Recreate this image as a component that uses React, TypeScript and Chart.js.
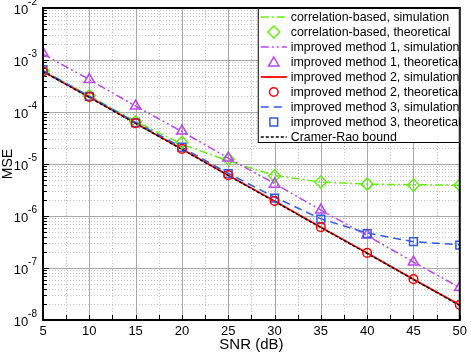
import React, { useEffect, useRef } from "react";
import { Chart, registerables } from "chart.js";

Chart.register(...registerables);

// ---- data ----
const snr = [5, 10, 15, 20, 25, 30, 35, 40, 45, 50];
const corrSim = [6.2e-4, 2.05e-4, 6.6e-5, 2.4e-5, 1.15e-5, 6.0e-6, 4.5e-6, 4.1e-6, 4.0e-6, 3.9e-6];
const corrTheo = [6.2e-4, 2.05e-4, 6.5e-5, 2.6e-5, 1.25e-5, 5.9e-6, 4.5e-6, 4.1e-6, 3.9e-6, 3.9e-6];
const m1Sim = [1.3e-3, 4.2e-4, 1.3e-4, 4.2e-5, 1.3e-5, 4.2e-6, 1.3e-6, 4.2e-7, 1.3e-7, 4.2e-8];
const m1Theo = [1.35e-3, 4.2e-4, 1.3e-4, 4.3e-5, 1.3e-5, 4.1e-6, 1.3e-6, 4.3e-7, 1.3e-7, 4.2e-8];
const m2Sim = [6.0e-4, 1.95e-4, 6.1e-5, 1.95e-5, 6.1e-6, 1.95e-6, 6.1e-7, 1.95e-7, 6.1e-8, 1.95e-8];
const m2Theo = [6.0e-4, 1.95e-4, 6.1e-5, 1.95e-5, 6.1e-6, 1.95e-6, 6.1e-7, 1.95e-7, 6.1e-8, 1.95e-8];
const m3Sim = [6.3e-4, 2.0e-4, 6.3e-5, 2.1e-5, 6.6e-6, 2.3e-6, 8.8e-7, 4.7e-7, 3.2e-7, 2.8e-7];
const m3Theo = [6.5e-4, 2.0e-4, 6.2e-5, 2.1e-5, 6.5e-6, 2.2e-6, 8.7e-7, 4.6e-7, 3.2e-7, 2.75e-7];
const crb = [6.0e-4, 1.9e-4, 6.0e-5, 1.9e-5, 6.0e-6, 1.9e-6, 6.0e-7, 1.9e-7, 6.0e-8, 1.9e-8];

const yTickExponents = [-2, -3, -4, -5, -6, -7, -8];
const xMin = 5;
const xMax = 50;

const GREEN = "#66ee11";
const VIOLET = "#bb44ee";
const RED = "#ff0000";
const BLUE = "#2f5bea";
const FONT = "'Liberation Sans', Arial, sans-serif";

type Entry = {
  label: string;
  color: string;
  dash?: number[];
  width?: number;
  marker?: "diamond" | "triangle" | "circle" | "square";
};

const legendEntries: Entry[] = [
  { label: "correlation-based, simulation", color: GREEN, dash: [8, 3, 2, 3], width: 1.5 },
  { label: "correlation-based, theoretical", color: GREEN, marker: "diamond" },
  { label: "improved method 1, simulation", color: VIOLET, dash: [8, 3, 2, 3, 2, 3], width: 1.5 },
  { label: "improved method 1, theoretical", color: VIOLET, marker: "triangle" },
  { label: "improved method 2, simulation", color: RED, dash: [], width: 1.8 },
  { label: "improved method 2, theoretical", color: RED, marker: "circle" },
  { label: "improved method 3, simulation", color: BLUE, dash: [8, 5], width: 1.5 },
  { label: "improved method 3, theoretical", color: BLUE, marker: "square" },
  { label: "Cramer-Rao bound", color: "#000000", dash: [3, 2], width: 1.3 },
];

function drawMarker(ctx: CanvasRenderingContext2D, kind: string, x: number, y: number, r: number) {
  ctx.beginPath();
  if (kind === "diamond") {
    ctx.moveTo(x, y - r);
    ctx.lineTo(x + r, y);
    ctx.lineTo(x, y + r);
    ctx.lineTo(x - r, y);
    ctx.closePath();
  } else if (kind === "triangle") {
    const h = r;
    ctx.moveTo(x, y - h);
    ctx.lineTo(x + h * 0.866, y + h * 0.5);
    ctx.lineTo(x - h * 0.866, y + h * 0.5);
    ctx.closePath();
  } else if (kind === "circle") {
    ctx.arc(x, y, r, 0, Math.PI * 2);
  } else {
    const s = r * Math.SQRT1_2;
    ctx.rect(x - s, y - s, 2 * s, 2 * s);
  }
  ctx.stroke();
}

const frameAndLegend = {
  id: "frameAndLegend",
  beforeDatasetsDraw(chart: any) {
    const ctx: CanvasRenderingContext2D = chart.ctx;
    const { left, right, top, bottom } = chart.chartArea;
    const xs = chart.scales.x;
    const ys = chart.scales.y;
    ctx.save();
    // minor grid (dotted)
    ctx.strokeStyle = "#c4c4c4";
    ctx.lineWidth = 1;
    ctx.setLineDash([1, 2]);
    for (let v = xMin + 2.5; v < xMax; v += 5) {
      const px = Math.round(xs.getPixelForValue(v)) + 0.5;
      ctx.beginPath();
      ctx.moveTo(px, top);
      ctx.lineTo(px, bottom);
      ctx.stroke();
    }
    for (let e = -8; e < -2; e++) {
      for (let m = 2; m <= 9; m++) {
        const py = Math.round(ys.getPixelForValue(m * Math.pow(10, e))) + 0.5;
        ctx.beginPath();
        ctx.moveTo(left, py);
        ctx.lineTo(right, py);
        ctx.stroke();
      }
    }
    // major grid (solid)
    ctx.setLineDash([]);
    ctx.strokeStyle = "#a8a8a8";
    for (let v = xMin + 5; v < xMax; v += 5) {
      const px = Math.round(xs.getPixelForValue(v)) + 0.5;
      ctx.beginPath();
      ctx.moveTo(px, top);
      ctx.lineTo(px, bottom);
      ctx.stroke();
    }
    yTickExponents.forEach((e) => {
      const py = Math.round(ys.getPixelForValue(Math.pow(10, e))) + 0.5;
      ctx.beginPath();
      ctx.moveTo(left, py);
      ctx.lineTo(right, py);
      ctx.stroke();
    });
    // inner tick marks
    ctx.strokeStyle = "#000";
    ctx.lineWidth = 1;
    for (let v = xMin; v <= xMax; v += 2.5) {
      const px = Math.round(xs.getPixelForValue(v)) + 0.5;
      ctx.beginPath();
      ctx.moveTo(px, bottom);
      ctx.lineTo(px, bottom - 5);
      ctx.stroke();
    }
    for (let e = -8; e < -2; e++) {
      for (let m = 1; m <= 9; m++) {
        const py = Math.round(ys.getPixelForValue(m * Math.pow(10, e))) + 0.5;
        ctx.beginPath();
        ctx.moveTo(left, py);
        ctx.lineTo(left + (m === 1 ? 6 : 4), py);
        ctx.stroke();
      }
    }
    ctx.restore();
  },
  afterDraw(chart: any) {
    const ctx: CanvasRenderingContext2D = chart.ctx;
    const { left, right, top, bottom } = chart.chartArea;
    const ys = chart.scales.y;
    ctx.save();
    // frame
    ctx.strokeStyle = "#000";
    ctx.lineWidth = 2;
    ctx.setLineDash([]);
    ctx.strokeRect(left, top, right - left, bottom - top);

    // y tick labels with superscripts
    ctx.fillStyle = "#000";
    ctx.textBaseline = "middle";
    yTickExponents.forEach((e) => {
      const py = ys.getPixelForValue(Math.pow(10, e));
      ctx.font = `10px ${FONT}`;
      ctx.textAlign = "right";
      const sup = String(e);
      const supW = ctx.measureText(sup).width;
      const supRight = left - 6;
      ctx.fillText(sup, supRight, py - 6);
      ctx.font = `13px ${FONT}`;
      ctx.fillText("10", supRight - supW, py + 2);
    });

    // legend
    const boxW = 202;
    const rowH = 15;
    const boxH = 135;
    const bx = right - boxW;
    const by = top;
    ctx.fillStyle = "#fff";
    ctx.fillRect(bx, by, boxW, boxH);
    ctx.strokeStyle = "#000";
    ctx.lineWidth = 1;
    ctx.strokeRect(bx + 0.5, by + 0.5, boxW - 1, boxH - 1);
    ctx.font = `12.4px ${FONT}`;
    ctx.textAlign = "left";
    ctx.textBaseline = "middle";
    legendEntries.forEach((en, i) => {
      const y = by + 9 + i * rowH;
      ctx.strokeStyle = en.color;
      if (en.marker) {
        ctx.setLineDash([]);
        ctx.lineWidth = 1.5;
        const r = en.marker === "circle" ? 4.3 : en.marker === "square" ? 5.5 : 6;
        drawMarker(ctx, en.marker, bx + 16, en.marker === "triangle" ? y + 1 : y, r);
      } else {
        ctx.setLineDash(en.dash || []);
        ctx.lineWidth = en.width || 1.5;
        ctx.beginPath();
        ctx.moveTo(bx + 3, y);
        ctx.lineTo(bx + 29, y);
        ctx.stroke();
      }
      ctx.setLineDash([]);
      ctx.fillStyle = "#000";
      ctx.fillText(en.label, bx + 33, y + 0.5);
    });
    ctx.restore();
  },
};

function pts(vals: number[]) {
  return snr.map((x, i) => ({ x, y: vals[i] }));
}

export default function App() {
  const ref = useRef<HTMLCanvasElement | null>(null);
  useEffect(() => {
    if (!ref.current) return;
    const lineDs = (label: string, vals: number[], color: string, dash: number[], width: number, order: number) => ({
      label,
      data: pts(vals),
      borderColor: color,
      backgroundColor: color,
      borderDash: dash,
      borderWidth: width,
      pointRadius: 0,
      showLine: true,
      fill: false,
      tension: 0,
      order,
    });
    const markDs = (label: string, vals: number[], color: string, style: string, radius: number, order: number) => ({
      label,
      data: pts(vals),
      borderColor: color,
      backgroundColor: "rgba(0,0,0,0)",
      pointStyle: style,
      pointRadius: radius,
      pointBorderWidth: 1.5,
      pointBorderColor: color,
      pointBackgroundColor: "rgba(0,0,0,0)",
      showLine: false,
      order,
    });
    const chart = new Chart(ref.current, {
      type: "scatter",
      data: {
        datasets: [
          lineDs(legendEntries[0].label, corrSim, GREEN, [8, 3, 2, 3], 1.5, 9),
          markDs(legendEntries[1].label, corrTheo, GREEN, "rectRot", 6, 4),
          lineDs(legendEntries[2].label, m1Sim, VIOLET, [8, 3, 2, 3, 2, 3], 1.5, 8),
          markDs(legendEntries[3].label, m1Theo, VIOLET, "triangle", 6, 3),
          lineDs(legendEntries[4].label, m2Sim, RED, [], 1.8, 7),
          markDs(legendEntries[5].label, m2Theo, RED, "circle", 4.3, 1),
          lineDs(legendEntries[6].label, m3Sim, BLUE, [8, 5], 1.5, 6),
          markDs(legendEntries[7].label, m3Theo, BLUE, "rect", 5.5, 2),
          lineDs(legendEntries[8].label, crb, "#000000", [3, 2], 1.3, 5),
        ] as any,
      },
      options: {
        animation: false,
        responsive: false,
        maintainAspectRatio: false,
        events: [],
        layout: { padding: { top: 8, right: 8, left: 0, bottom: 0 } },
        plugins: {
          legend: { display: false },
          tooltip: { enabled: false },
        },
        scales: {
          x: {
            type: "linear",
            min: xMin,
            max: xMax,
            grid: { display: false, drawTicks: false },
            border: { display: false },
            ticks: {
              stepSize: 5,
              color: "#000",
              padding: 4,
              maxRotation: 0,
              font: { family: FONT, size: 13 },
              callback: (v: any) => String(v),
            },
            title: {
              display: true,
              text: "SNR (dB)",
              color: "#000",
              font: { family: FONT, size: 15 },
              padding: { top: 0, bottom: 0 },
            },
            afterFit: (s: any) => {
              s.height = 34;
            },
          },
          y: {
            type: "logarithmic",
            min: 1e-8,
            max: 1e-2,
            grid: { display: false, drawTicks: false },
            border: { display: false },
            ticks: { display: false },
            title: {
              display: true,
              text: "MSE",
              color: "#000",
              font: { family: FONT, size: 14 },
              padding: { top: 0, bottom: 0 },
            },
            afterFit: (s: any) => {
              s.width = 43;
            },
          },
        },
      },
      plugins: [frameAndLegend],
    });
    return () => chart.destroy();
  }, []);
  return (
    <div style={{ position: "absolute", left: 0, top: 0, width: 471, height: 354, background: "#fff" }}>
      <canvas ref={ref} width={471} height={354} style={{ width: 471, height: 354, display: "block" }} />
    </div>
  );
}
